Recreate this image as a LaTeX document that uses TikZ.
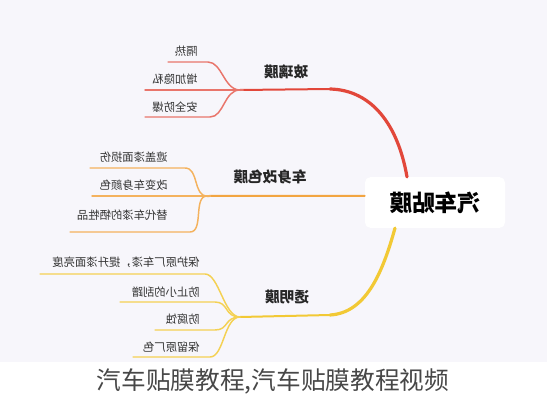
\documentclass[tikz,border=0pt]{standalone}
\usepackage{fontspec}
\usepackage{graphicx}
\setmainfont{Noto Sans CJK SC}

\definecolor{bgcol}{HTML}{F7F6FB}
\definecolor{redbr}{HTML}{E2473A}
\definecolor{orangebr}{HTML}{F2A541}
\definecolor{yellowbr}{HTML}{F2C935}

\begin{document}
\begin{tikzpicture}[x=0.75pt, y=-0.75pt,
    leaf/.style = {anchor=east, inner sep=0pt, text=black!80, font=\fontsize{8.5}{10}\selectfont},
    branch/.style = {inner sep=0pt, text=black!85, font=\bfseries\fontsize{11}{13}\selectfont},
    root/.style = {fill=white, rounded corners=4pt, minimum width=105pt, minimum height=38pt, font=\bfseries\fontsize{17}{20}\selectfont},
    main/.style = {line width=2.4pt, line cap=round},
    stem/.style = {line width=1.5pt, line cap=round},
    twig/.style = {line width=1.1pt, line cap=round}]

      \useasboundingbox (0,0) rectangle (547,400);
      \fill[bgcol] (0,0) rectangle (547,362);

      \node[root] (ROOT) at (435,202.5) {\reflectbox{汽车贴膜}};

      \node[branch] (BR_0) at (286,72) {\reflectbox{玻璃膜}};
      \node[branch] (BR_1) at (270,177) {\reflectbox{车身改色膜}};
      \node[branch] (BR_2) at (287,297) {\reflectbox{透明膜}};

      \coordinate (J_0) at (240,90);
      \coordinate (J_1) at (207,196);
      \coordinate (J_2) at (240,317);
      \coordinate (K_0) at (330,89);
      \coordinate (K_2) at (330,315);

      % main branches
      \draw[main, redbr] ([xshift=-21pt]ROOT.north) .. controls (398,125) and (372,90) .. (K_0);
      \draw[stem, redbr] (K_0) -- (J_0);
      \draw[stem, orangebr] ([yshift=5pt]ROOT.west) -- (J_1);
      \draw[main, yellowbr] ([xshift=-30pt]ROOT.south) .. controls (382,275) and (365,313) .. (K_2);
      \draw[stem, yellowbr] (K_2) -- (J_2);

      % leaves
      \foreach \t [count=\i from 0, evaluate=\i as \y using {51+28*\i}] in {隔热, 增加隐私, 安全防爆}
        \node[leaf] (LF_0_\i) at (198,\y) {\reflectbox{\t}};

      \foreach \t/\y [count=\i from 0] in {遮盖漆面损伤/157, 改变车身颜色/185, 替代车漆的牺牲品/215}
        \node[leaf] (LF_1_\i) at (168,\y) {\reflectbox{\t}};

      \foreach \t/\y [count=\i from 0] in {保护原厂车漆，提升漆面亮度/262, 防止小的刮蹭/292, 防腐蚀/319, 保留原厂色/347}
        \node[leaf] (LF_2_\i) at (200,\y) {\reflectbox{\t}};

      % twigs
      \foreach \ya/\xa/\xb [count=\i from 0] in {62/208/168, 90/240/145, 117/210/145} {
        \coordinate (TA_0_\i) at (\xa,\ya);
        \coordinate (TB_0_\i) at (\xb,\ya);
        \draw[twig, redbr!75] (J_0) .. controls +(-16,0) and +(14,0) .. (TA_0_\i) -- (TB_0_\i);
      }

      \foreach \ya/\xa/\xb [count=\i from 0] in {168/185/90, 196/207/92, 232/190/70} {
        \coordinate (TA_1_\i) at (\xa,\ya);
        \coordinate (TB_1_\i) at (\xb,\ya);
        \draw[twig, orangebr!85] (J_1) .. controls +(-14,0) and +(14,0) .. (TA_1_\i) -- (TB_1_\i);
      }

      \foreach \ya/\xa/\xb [count=\i from 0] in {274/205/40, 302/215/120, 330/215/155, 357/210/133} {
        \coordinate (TA_2_\i) at (\xa,\ya);
        \coordinate (TB_2_\i) at (\xb,\ya);
        \draw[twig, yellowbr!85] (J_2) .. controls +(-16,0) and +(14,0) .. (TA_2_\i) -- (TB_2_\i);
      }

      \node[text=black!72, font=\fontsize{18.5}{22}\selectfont] (CAP) at (273,381) {汽车贴膜教程,汽车贴膜教程视频};

\end{tikzpicture}
\end{document}
